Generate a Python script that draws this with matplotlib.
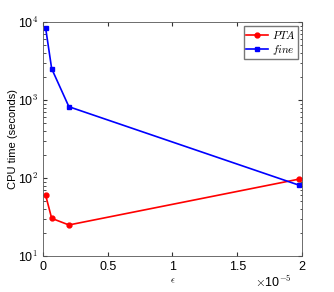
import numpy as np
import matplotlib
matplotlib.use("Agg")
import matplotlib.pyplot as plt

eps = [0.02e-5, 0.067e-5, 0.2e-5, 1.98e-5]
pta_time = [60.5, 30.4, 25.0, 97.0]
fine_time = [8450, 2520, 820, 80.6]

plt.rcParams["font.family"] = ["Liberation Sans", "DejaVu Sans"]
plt.rcParams["mathtext.fontset"] = "cm"

fig = plt.figure(figsize=(3.34, 2.92), dpi=100)
ax = fig.add_axes([43 / 334, 1 - 256 / 292, 259 / 334, 234 / 292])

ax.plot(eps, pta_time, "-o", color="red", lw=1.2, ms=3.5, label=r"$PTA$")
ax.plot(eps, fine_time, "-s", color="blue", lw=1.2, ms=3.5, label=r"$fine$")

ax.set_yscale("log")
ax.set_xlim(0, 2e-5)
ax.set_ylim(10, 1e4)
ax.set_xticks([0, 0.5e-5, 1e-5, 1.5e-5, 2e-5])
ax.set_xticklabels(["0", "0.5", "1", "1.5", "2"])
ax.set_yticks([10, 100, 1000, 10000])
ax.set_yticklabels([r"10$^{1}$", r"10$^{2}$", r"10$^{3}$", r"10$^{4}$"])
ax.tick_params(which="both", direction="in", top=True, right=True,
               labelsize=9, colors="#333333", labelcolor="black")
ax.tick_params(which="major", length=3)
ax.tick_params(which="minor", length=1.8)
for s in ax.spines.values():
    s.set_color("#555555")
    s.set_linewidth(0.6)

ax.set_xlabel(r"$\epsilon$", fontsize=7, labelpad=2)
ax.set_ylabel("CPU time (seconds)", fontsize=8, labelpad=0)
ax.text(0.961, -0.111, r"$\times$10$^{-5}$", transform=ax.transAxes,
        ha="right", va="center", fontsize=9)

ax.legend(loc="upper right", fontsize=8, frameon=True, fancybox=False,
          edgecolor="#555555", borderpad=0.2, handlelength=2.0,
          handletextpad=0.3, labelspacing=0.2, borderaxespad=0.4)

fig.savefig("out.png", dpi=100)
